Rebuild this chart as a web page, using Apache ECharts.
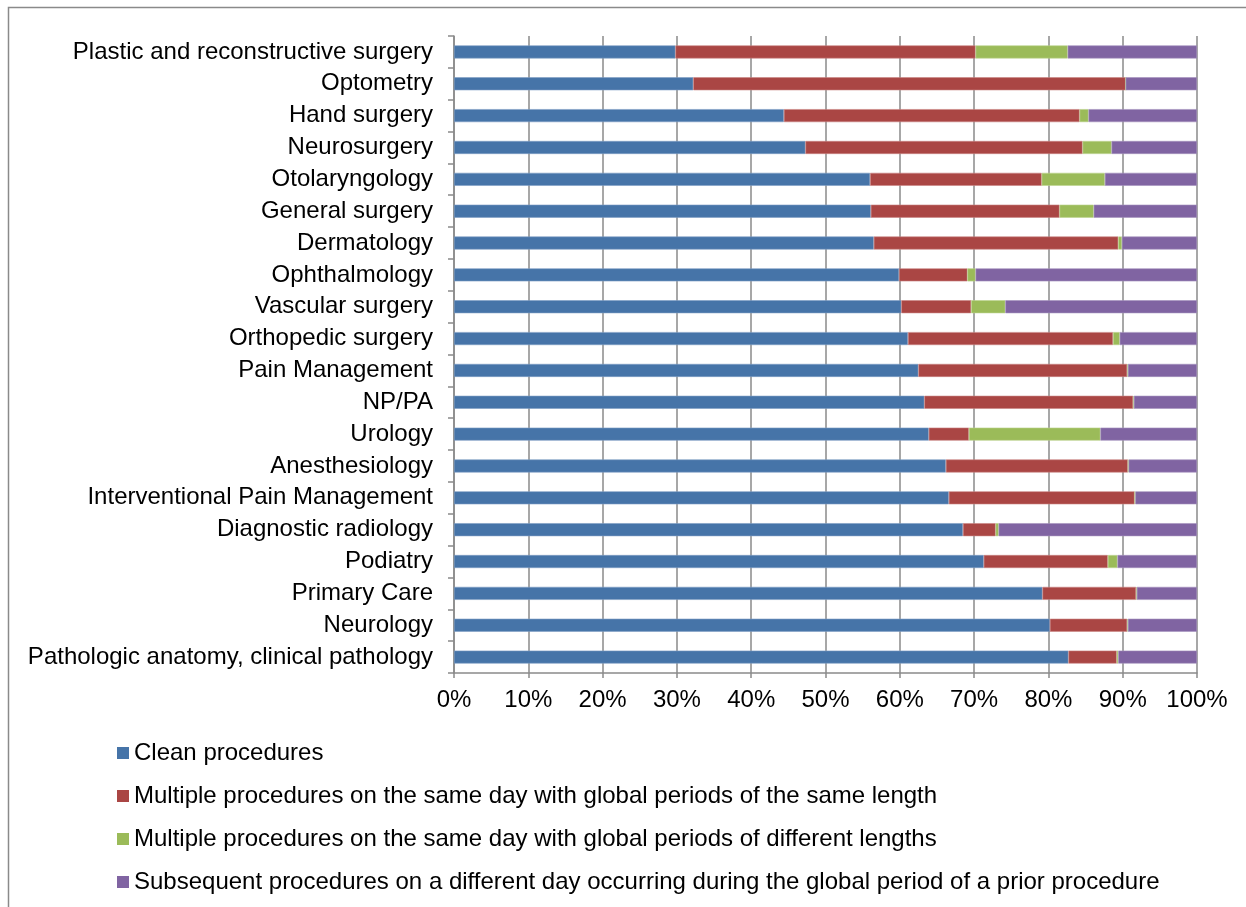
<!DOCTYPE html>
<html>
<head>
<meta charset="utf-8">
<title>Procedure types by specialty</title>
<script src="https://cdn.jsdelivr.net/npm/echarts@6/dist/echarts.min.js"></script>
<style>
  html, body { margin: 0; padding: 0; background: #ffffff; }
  #chart { width: 1246px; height: 907px; }
</style>
</head>
<body>
<div id="chart"></div>
<script>
// Specialties, listed top to bottom
const specialties = [
  'Plastic and reconstructive surgery',
  'Optometry',
  'Hand surgery',
  'Neurosurgery',
  'Otolaryngology',
  'General surgery',
  'Dermatology',
  'Ophthalmology',
  'Vascular surgery',
  'Orthopedic surgery',
  'Pain Management',
  'NP/PA',
  'Urology',
  'Anesthesiology',
  'Interventional Pain Management',
  'Diagnostic radiology',
  'Podiatry',
  'Primary Care',
  'Neurology',
  'Pathologic anatomy, clinical pathology'
];

const seriesNames = [
  'Clean procedures',
  'Multiple procedures on the same day with global periods of the same length',
  'Multiple procedures on the same day with global periods of different lengths',
  'Subsequent procedures on a different day occurring during the global period of a prior procedure'
];

// Shares in percent, same order as specialties
const cleanProcedures = [29.8, 32.2, 44.4, 47.3, 56.0, 56.1, 56.5, 59.9, 60.2, 61.1, 62.5, 63.3, 63.9, 66.2, 66.6, 68.5, 71.3, 79.2, 80.2, 82.7];
const sameDaySameLength = [40.4, 58.2, 39.8, 37.3, 23.1, 25.4, 32.9, 9.2, 9.4, 27.6, 28.1, 28.1, 5.4, 24.5, 25.0, 4.4, 16.7, 12.6, 10.4, 6.5];
const sameDayDifferentLength = [12.4, 0.0, 1.2, 3.9, 8.5, 4.6, 0.5, 1.1, 4.6, 0.9, 0.1, 0.1, 17.7, 0.1, 0.1, 0.4, 1.3, 0.1, 0.1, 0.2];
const subsequentDifferentDay = [17.4, 9.6, 14.6, 11.5, 12.4, 13.9, 10.1, 29.8, 25.8, 10.4, 9.3, 8.5, 13.0, 9.2, 8.3, 26.7, 10.7, 8.1, 9.3, 10.6];

const percentTicks = ['0%', '10%', '20%', '30%', '40%', '50%', '60%', '70%', '80%', '90%', '100%'];

const seriesValues = [cleanProcedures, sameDaySameLength, sameDayDifferentLength, subsequentDifferentDay];
const colors = ['#4674A8', '#AA4644', '#9BBB59', '#8064A2'];
const edgeColors = ['#7f9dc4', '#c98583', '#bcd38f', '#a592bd'];

const fontFamily = 'Liberation Sans, Arial, sans-serif';
const chart = echarts.init(document.getElementById('chart'), null, { renderer: 'canvas' });

chart.setOption({
  animation: false,
  backgroundColor: '#ffffff',
  color: colors,
  textStyle: { fontFamily: fontFamily },
  graphic: [
    {
      type: 'polyline',
      shape: { points: [[8.5, 910], [8.5, 7.5], [1250, 7.5]] },
      style: { stroke: '#8a8a8a', lineWidth: 1.5, fill: null },
      silent: true
    }
  ],
  grid: {
    left: 454,
    top: 36,
    width: 743,
    height: 637,
    containLabel: false
  },
  legend: {
    orient: 'vertical',
    left: 117,
    top: 741,
    padding: 0,
    itemWidth: 12,
    itemHeight: 12,
    itemGap: 19,
    icon: 'rect',
    data: seriesNames,
    itemStyle: { borderWidth: 0 },
    textStyle: { fontSize: 24, color: '#000000', fontFamily: fontFamily }
  },
  xAxis: {
    type: 'value',
    min: 0,
    max: 100,
    interval: 10,
    axisLine: { show: true, lineStyle: { color: '#8a8a8a', width: 1.5 } },
    axisTick: { show: true, length: 5, lineStyle: { color: '#8a8a8a', width: 1.5 } },
    splitLine: { show: true, lineStyle: { color: '#8a8a8a', width: 1.5 } },
    axisLabel: {
      margin: 15,
      fontSize: 24,
      color: '#000000',
      fontFamily: fontFamily,
      formatter: function (v) { return percentTicks[Math.round(v / 10)]; }
    }
  },
  yAxis: {
    type: 'category',
    inverse: true,
    data: specialties,
    axisLine: { show: true, lineStyle: { color: '#8a8a8a', width: 1.5 } },
    axisTick: { show: true, length: 6, alignWithLabel: false, lineStyle: { color: '#8a8a8a', width: 1.5 } },
    axisLabel: {
      margin: 21,
      fontSize: 24,
      color: '#000000',
      fontFamily: fontFamily
    }
  },
  series: seriesNames.map(function (name, i) {
    return {
      name: name,
      type: 'bar',
      stack: 'total',
      barWidth: 13,
      data: seriesValues[i],
      itemStyle: { color: colors[i], borderColor: edgeColors[i], borderWidth: 0.6 }
    };
  })
});
</script>
</body>
</html>
